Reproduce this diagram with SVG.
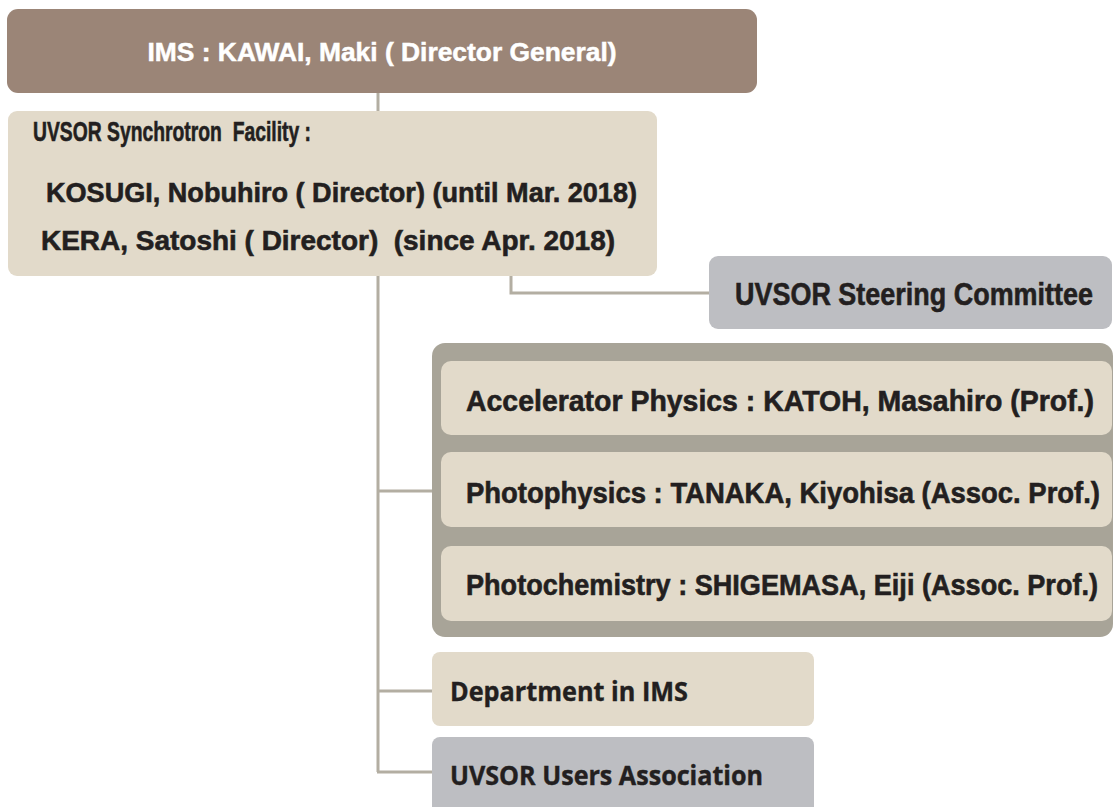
<svg xmlns="http://www.w3.org/2000/svg" width="1113" height="807" viewBox="0 0 1113 807">
<style>
.t{font-family:"Liberation Sans",Arial,sans-serif;font-weight:bold;fill:#231F20;stroke:#231F20;stroke-width:0.6}
.wt{font-family:"Liberation Sans",Arial,sans-serif;font-weight:bold;fill:#FFFFFF;stroke:#FFFFFF;stroke-width:0.5}
.w{font-family:"Open Sans","Noto Sans",sans-serif;font-weight:bold;fill:#231F20;stroke:#231F20;stroke-width:0.4}
.beige{fill:#E2DACA}
.grey{fill:#BDBEC2}
.con{fill:none;stroke:#B3AEA2;stroke-width:3}
</style>
<rect width="1113" height="807" fill="#FFFFFF"/>
<g id="connectors">
<line class="con" x1="378" y1="93" x2="378" y2="111"/>
<line class="con" x1="378" y1="276" x2="378" y2="772"/>
<polyline class="con" points="511,276 511,293 709,293"/>
<line class="con" x1="378" y1="491" x2="432" y2="491"/>
<line class="con" x1="378" y1="691" x2="432" y2="691"/>
<line class="con" x1="377" y1="772" x2="432" y2="772"/>
</g>
<g id="ims">
<rect x="7" y="9" width="750" height="84" rx="11" fill="#9B8577"/>
<text x="382" y="61" text-anchor="middle" class="wt" font-size="26" textLength="469" lengthAdjust="spacingAndGlyphs">IMS : KAWAI, Maki ( Director General)</text>
</g>
<g id="facility">
<rect x="8" y="111" width="649" height="165" rx="9" class="beige"/>
<text x="33" y="141" class="t" font-size="28" textLength="278" lengthAdjust="spacingAndGlyphs" xml:space="preserve">UVSOR Synchrotron  Facility :</text>
<text x="46" y="202" class="t" font-size="28" textLength="591" lengthAdjust="spacingAndGlyphs">KOSUGI, Nobuhiro ( Director) (until Mar. 2018)</text>
<text x="41" y="250" class="t" font-size="28" textLength="574" lengthAdjust="spacingAndGlyphs" xml:space="preserve">KERA, Satoshi ( Director)  (since Apr. 2018)</text>
</g>
<g id="steering">
<rect x="709" y="256" width="403" height="73" rx="9" class="grey"/>
<text transform="translate(735,305) scale(0.8,1)" x="0" y="0" class="t" font-size="32" textLength="447.5" lengthAdjust="spacingAndGlyphs">UVSOR Steering Committee</text>
</g>
<g id="divisions">
<rect x="432" y="343" width="681" height="294" rx="13" fill="#A8A498"/>
</g>
<g id="accelerator">
<rect x="441" y="361" width="671" height="74" rx="10" class="beige"/>
<text transform="translate(466,411) scale(0.8,1)" x="0" y="0" class="t" font-size="29" textLength="785" lengthAdjust="spacingAndGlyphs">Accelerator Physics : KATOH, Masahiro (Prof.)</text>
</g>
<g id="photophysics">
<rect x="441" y="452" width="671" height="75" rx="10" class="beige"/>
<text transform="translate(466,503) scale(0.8,1)" x="0" y="0" class="t" font-size="29" textLength="792.5" lengthAdjust="spacingAndGlyphs">Photophysics : TANAKA, Kiyohisa (Assoc. Prof.)</text>
</g>
<g id="photochemistry">
<rect x="441" y="546" width="671" height="75" rx="10" class="beige"/>
<text transform="translate(466,595) scale(0.8,1)" x="0" y="0" class="t" font-size="29" textLength="790" lengthAdjust="spacingAndGlyphs">Photochemistry : SHIGEMASA, Eiji (Assoc. Prof.)</text>
</g>
<g id="department">
<rect x="432" y="652" width="382" height="74" rx="8" class="beige"/>
<text x="450" y="701" class="w" font-size="26" textLength="238" lengthAdjust="spacingAndGlyphs">Department in IMS</text>
</g>
<g id="users">
<rect x="432" y="737" width="382" height="90" rx="8" class="grey"/>
<text x="450" y="785" class="w" font-size="26" textLength="313" lengthAdjust="spacingAndGlyphs">UVSOR Users Association</text>
</g>
</svg>
